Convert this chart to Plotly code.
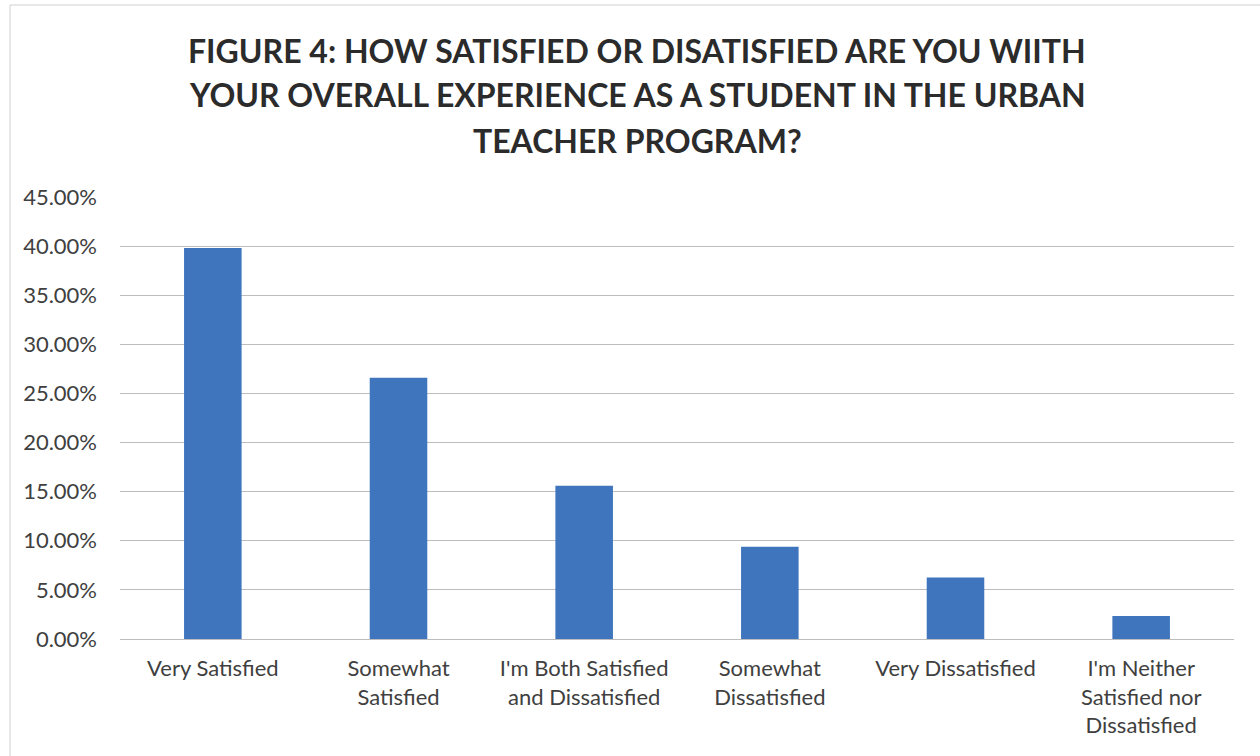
import plotly.graph_objects as go

categories = [
    "Very Satisfied",
    "Somewhat<br>Satisfied",
    "I'm Both Satisfied<br>and Dissatisfied",
    "Somewhat<br>Dissatisfied",
    "Very Dissatisfied",
    "I'm Neither<br>Satisfied nor<br>Dissatisfied",
]
values = [0.398, 0.266, 0.156, 0.094, 0.0625, 0.0234]
tick_vals = [0, 0.05, 0.10, 0.15, 0.20, 0.25, 0.30, 0.35, 0.40, 0.45]
tick_text = ["0.00%", "5.00%", "10.00%", "15.00%", "20.00%", "25.00%",
             "30.00%", "35.00%", "40.00%", "45.00%"]
title_lines = [
    "FIGURE 4: HOW SATISFIED OR DISATISFIED ARE YOU WIITH",
    "YOUR OVERALL EXPERIENCE AS A STUDENT IN THE URBAN",
    "TEACHER PROGRAM?",
]

FONT = "Lato, 'Open Sans', sans-serif"

fig = go.Figure(go.Bar(
    x=categories, y=values,
    marker=dict(color="#3f75bd", line=dict(width=0)),
))

L, R, T, B = 120, 26, 197, 117
W, H = 1260, 756
pw = W - L - R
ph = H - T - B

annotations = []
for i, line in enumerate(title_lines):
    ypix = 50 + 45 * i
    annotations.append(dict(
        text="<b>" + line + "</b>",
        xref="paper", yref="paper",
        x=(637 - L) / pw, y=(639 - ypix) / ph,
        xanchor="center", yanchor="middle", showarrow=False,
        font=dict(family=FONT, size=32, color="#2b2b2b"),
    ))

fig.update_layout(
    width=W, height=H,
    margin=dict(l=L, r=R, t=T, b=B),
    paper_bgcolor="white", plot_bgcolor="white",
    bargap=0.69,
    showlegend=False,
    font=dict(family=FONT, color="#404040", size=22),
    xaxis=dict(showgrid=False, showline=False, ticks="", tickfont=dict(size=22),
               ticklabelstandoff=14),
    yaxis=dict(range=[0, 0.45], tickvals=tick_vals, ticktext=tick_text,
               showgrid=True, gridcolor="#bdbdbd", gridwidth=1,
               zeroline=True, zerolinecolor="#bdbdbd", zerolinewidth=1,
               showline=False, ticks="", ticklabelstandoff=22,
               tickfont=dict(size=22)),
    annotations=annotations,
    shapes=[
        dict(type="line", xref="paper", yref="paper",
             x0=(10 - L) / pw, x1=(10 - L) / pw, y0=(639 - 760) / ph, y1=(639 - 5) / ph,
             line=dict(color="#d0d0d0", width=1)),
        dict(type="line", xref="paper", yref="paper",
             x0=(10 - L) / pw, x1=(1265 - L) / pw, y0=(639 - 5) / ph, y1=(639 - 5) / ph,
             line=dict(color="#d0d0d0", width=1)),
    ],
)

fig.write_html("out.html")
